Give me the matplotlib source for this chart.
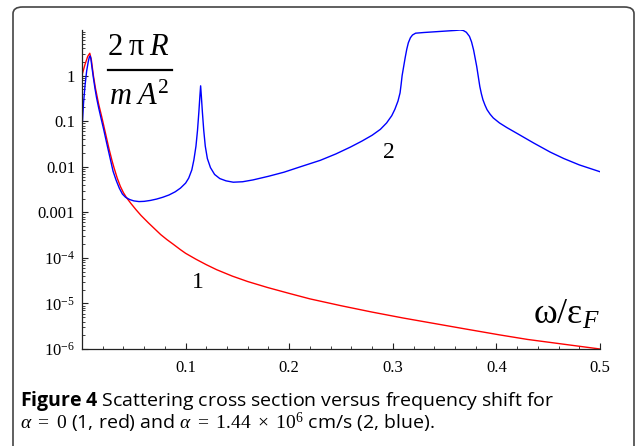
import numpy as np
import matplotlib
matplotlib.use('Agg')
import matplotlib.pyplot as plt
from matplotlib.patches import FancyBboxPatch
from matplotlib.ticker import FixedLocator, NullFormatter
from matplotlib.lines import Line2D

plt.rcParams['mathtext.fontset'] = 'custom'
plt.rcParams['mathtext.rm'] = 'Liberation Serif'
plt.rcParams['mathtext.it'] = 'Liberation Serif:italic'
plt.rcParams['mathtext.bf'] = 'Open Sans:bold'

# curve 1 (alpha = 0, red): omega/eps_F and log10 of 2 pi R / (m A^2)
red_x = [0.0005, 0.003, 0.0055, 0.0075, 0.009, 0.011, 0.013, 0.016, 0.019, 0.021,
         0.023, 0.026, 0.029, 0.031, 0.034, 0.037, 0.04, 0.043, 0.047, 0.052,
         0.057, 0.064, 0.07, 0.076, 0.082, 0.088, 0.095, 0.1, 0.11, 0.12,
         0.13, 0.145, 0.16, 0.179, 0.2, 0.22, 0.25, 0.28, 0.31, 0.34,
         0.37, 0.403, 0.43, 0.46, 0.5]
red_log = [0.05, 0.25, 0.42, 0.49, 0.35, 0.0, -0.28, -0.62, -0.9, -1.1,
           -1.3, -1.6, -1.87, -2.03, -2.25, -2.43, -2.57, -2.68, -2.8, -2.94,
           -3.07, -3.23, -3.36, -3.49, -3.6, -3.7, -3.82, -3.9, -4.03, -4.15,
           -4.26, -4.4, -4.52, -4.65, -4.78, -4.9, -5.05, -5.19, -5.32, -5.44,
           -5.56, -5.69, -5.79, -5.88, -6.0]

# curve 2 (alpha = 1.44e6 cm/s, blue)
blue_x = [0.0005, 0.0015, 0.003, 0.0045, 0.006, 0.007, 0.0078, 0.0085, 0.0095, 0.011,
          0.0125, 0.014, 0.016, 0.018, 0.021, 0.024, 0.027, 0.03, 0.033, 0.036,
          0.039, 0.042, 0.046, 0.05, 0.055, 0.06, 0.066, 0.072, 0.078, 0.084,
          0.09, 0.095, 0.1, 0.103, 0.106, 0.108, 0.110, 0.1115, 0.1128, 0.1138,
          0.1145, 0.1152, 0.1162, 0.1175, 0.119, 0.121, 0.124, 0.128, 0.133, 0.139,
          0.146, 0.155, 0.165, 0.18, 0.195, 0.211, 0.23, 0.245, 0.259, 0.27,
          0.28, 0.288, 0.294, 0.299, 0.302, 0.305, 0.307, 0.308, 0.309, 0.3105,
          0.312, 0.3135, 0.315, 0.317, 0.319, 0.322, 0.33, 0.34, 0.35, 0.36,
          0.365, 0.368, 0.371, 0.374, 0.376, 0.378, 0.3795, 0.381, 0.3825, 0.384,
          0.3855, 0.387, 0.389, 0.391, 0.394, 0.397, 0.403, 0.41, 0.42, 0.436,
          0.452, 0.465, 0.48, 0.5]
blue_log = [-1.0, -0.6, -0.2, 0.1, 0.3, 0.4, 0.43, 0.38, 0.2, -0.05,
            -0.28, -0.48, -0.7, -0.9, -1.19, -1.5, -1.8, -2.1, -2.3, -2.47,
            -2.6, -2.67, -2.72, -2.75, -2.765, -2.76, -2.74, -2.71, -2.67, -2.62,
            -2.55, -2.47, -2.36, -2.25, -2.07, -1.85, -1.55, -1.2, -0.8, -0.45,
            -0.225, -0.45, -0.8, -1.2, -1.55, -1.82, -2.02, -2.17, -2.26, -2.31,
            -2.34, -2.33, -2.29, -2.21, -2.12, -2.0, -1.86, -1.72, -1.57, -1.44,
            -1.31, -1.18, -1.04, -0.88, -0.74, -0.56, -0.38, -0.2, 0.0, 0.2,
            0.4, 0.58, 0.72, 0.83, 0.89, 0.93, 0.945, 0.96, 0.975, 0.99,
            1.0, 0.99, 0.95, 0.86, 0.74, 0.56, 0.38, 0.2, -0.02, -0.24,
            -0.4, -0.53, -0.65, -0.75, -0.85, -0.93, -1.04, -1.14, -1.27, -1.48,
            -1.68, -1.82, -1.96, -2.11]

y_ticks = [1e-6, 1e-5, 1e-4, 1e-3, 1e-2, 1e-1, 1]
y_labels = [r'$10^{-6}$', r'$10^{-5}$', r'$10^{-4}$', '0.001', '0.01', '0.1', '1']
x_ticks = [0.1, 0.2, 0.3, 0.4, 0.5]
x_labels = ['0.1', '0.2', '0.3', '0.4', '0.5']

W, H = 637, 446
fig = plt.figure(figsize=(W / 100, H / 100), dpi=100)
fig.patch.set_facecolor('white')

# rounded frame around figure + caption
frame = FancyBboxPatch((13 / W, -20 / H), 621 / W, (H - 7 + 20) / H,
                       boxstyle='round,pad=0,rounding_size=0.015',
                       transform=fig.transFigure, fill=False,
                       edgecolor='#444444', linewidth=1.2)
fig.patches.append(frame)

ax = fig.add_axes([82 / W, 1 - 349 / H, 518 / W, 319 / H])
ax.plot(red_x, 10.0 ** np.array(red_log), color='#ff0000', lw=1.0)
ax.plot(blue_x, 10.0 ** np.array(blue_log), color='#0000ff', lw=1.0)
ax.set_yscale('log')
ax.set_xlim(0, 0.5)
ax.set_ylim(1e-6, 10)

for s in ['top', 'right']:
    ax.spines[s].set_visible(False)
for s in ['left', 'bottom']:
    ax.spines[s].set_linewidth(0.9)
    ax.spines[s].set_color('#222222')

ax.yaxis.set_major_locator(FixedLocator(y_ticks))
ax.set_yticklabels(y_labels)
minor_y = [m * 10.0 ** e for e in range(-6, 1) for m in range(2, 10)]
ax.yaxis.set_minor_locator(FixedLocator(minor_y))
ax.yaxis.set_minor_formatter(NullFormatter())
ax.xaxis.set_major_locator(FixedLocator(x_ticks))
ax.set_xticklabels(x_labels)
ax.xaxis.set_minor_locator(FixedLocator(np.arange(0.02, 0.5, 0.02)))

ax.tick_params(which='major', direction='in', length=4.5, width=0.8,
               color='#222222', labelsize=12, pad=5)
ax.tick_params(axis='x', which='major', pad=8)
ax.tick_params(which='minor', direction='in', length=2.2, width=0.6, color='#222222')
for lab in ax.get_xticklabels() + ax.get_yticklabels():
    lab.set_fontfamily('Liberation Serif')

# y label as a fraction
ax.text(139 / W, 1 - 55 / H, r'$\mathrm{2\;\pi}\;R$', transform=fig.transFigure,
        ha='center', va='baseline', fontsize=22, family='Liberation Serif')
fig.lines.append(Line2D([107.5 / W, 172 / W], [1 - 70 / H, 1 - 70 / H],
                        transform=fig.transFigure, color='black', lw=1.6))
ax.text(139 / W, 1 - 105 / H, r'$m\;A^{\mathrm{2}}$', transform=fig.transFigure,
        ha='center', va='baseline', fontsize=22, family='Liberation Serif')

# x label
ax.text(566 / W, 1 - 324 / H, r'$\mathrm{\omega}/\mathrm{\varepsilon}_F$',
        transform=fig.transFigure, ha='center', va='baseline', fontsize=26)

# curve numbers
ax.text(198 / W, 1 - 283 / H, '1', transform=fig.transFigure, ha='center',
        va='center', fontsize=17, family='Liberation Serif')
ax.text(389 / W, 1 - 153 / H, '2', transform=fig.transFigure, ha='center',
        va='center', fontsize=17, family='Liberation Serif')

# caption
fig.text(20 / W, 1 - 406 / H,
         r'$\mathbf{Figure\ 4}$ Scattering cross section versus frequency shift for',
         ha='left', va='baseline', fontsize=14.0, family='Open Sans')
fig.text(20 / W, 1 - 429 / H,
         r'$\alpha\ =\ 0$ (1, red) and $\alpha\ =\ 1.44\ \times\ 10^{6}$ cm/s (2, blue).',
         ha='left', va='baseline', fontsize=14.0, family='Open Sans')

fig.savefig('out.png', dpi=100)
